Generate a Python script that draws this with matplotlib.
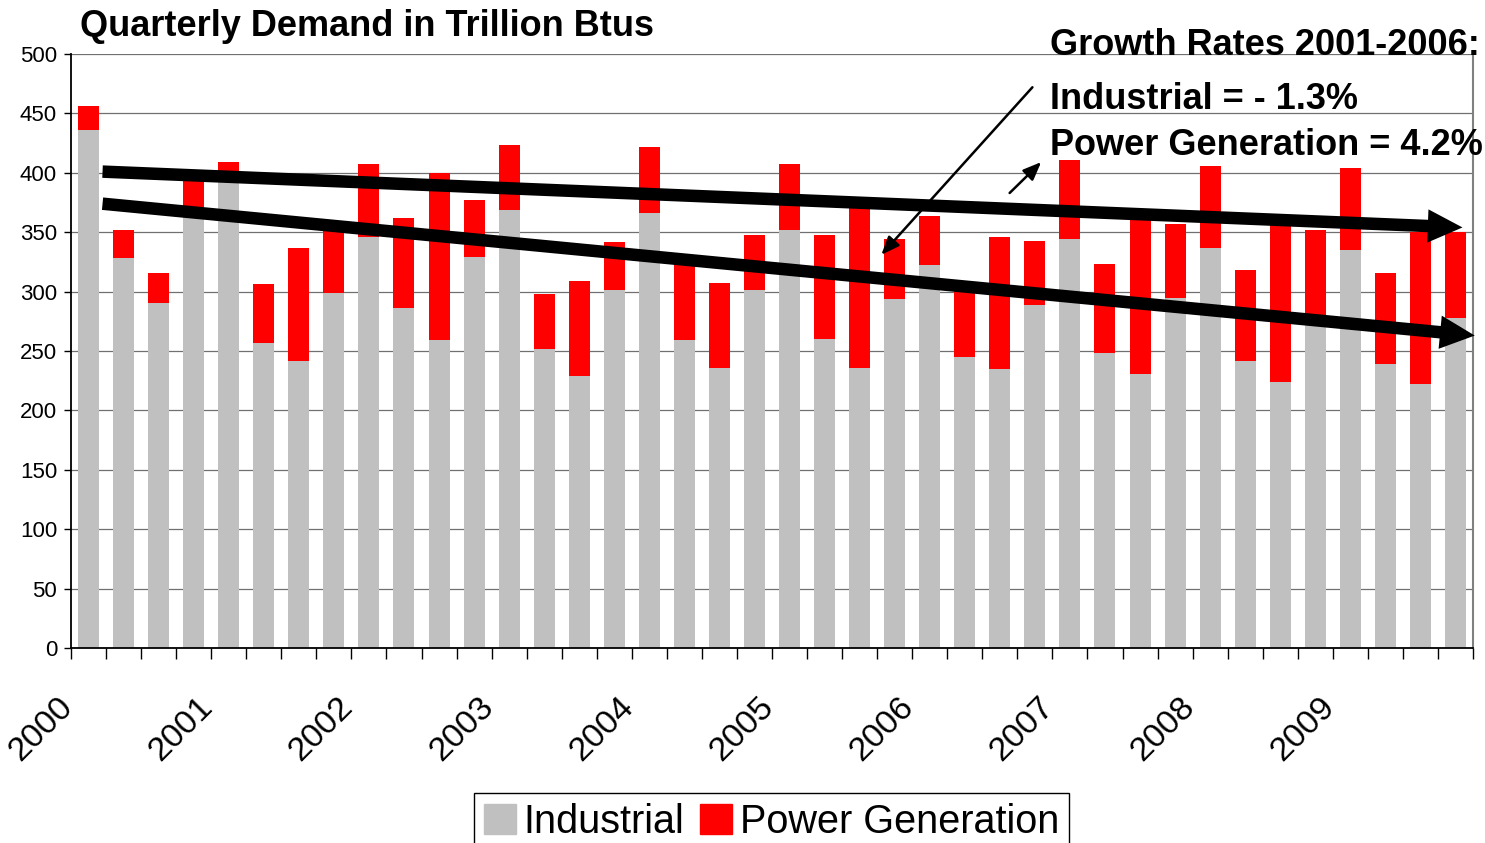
import numpy as np
import matplotlib.pyplot as plt
from matplotlib.patches import FancyArrowPatch, Patch
from matplotlib.transforms import ScaledTranslation

plt.rcParams['font.family'] = ['Liberation Sans', 'DejaVu Sans']

# quarterly demand, trillion Btu, 2000 Q1 .. 2009 Q4
industrial = [436, 328, 290, 371, 398, 257, 242, 299, 346, 286,
              259, 329, 369, 252, 229, 301, 366, 259, 236, 301,
              352, 260, 236, 294, 322, 245, 235, 289, 344, 248,
              231, 295, 337, 242, 224, 280, 335, 239, 222, 278]
power_gen = [20, 24, 26, 24, 11, 49, 95, 53, 61, 76,
             141, 48, 54, 46, 80, 41, 56, 68, 71, 47,
             55, 88, 138, 50, 42, 60, 111, 54, 67, 75,
             133, 62, 69, 76, 134, 72, 69, 77, 128, 72]
years = [str(y) for y in range(2000, 2010)]

# trend arrows (quarter index, value)
upper_trend = [(0.4, 401), (39.2, 354)]
lower_trend = [(0.4, 374), (39.55, 263)]
pointer_ind = [(26.93, 472), (22.62, 331)]
pointer_pow = [(26.28, 383), (27.18, 409)]

x = np.arange(len(industrial))

fig = plt.figure(figsize=(14.85, 8.43), dpi=100)
ax = fig.add_axes([71 / 1485, 1 - 648 / 843, 1402 / 1485, 594 / 843])

ax.bar(x, industrial, width=0.6, color='#c0c0c0', zorder=2)
ax.bar(x, power_gen, width=0.6, bottom=industrial, color='#ff0000', zorder=2)

ax.set_yticks(np.arange(0, 501, 50))
ax.yaxis.grid(True, color='#707070', lw=0.9, zorder=0)
ax.tick_params(axis='y', labelsize=16, length=5, width=1, pad=5)

ax.set_xticks(np.arange(0, len(x), 4) - 0.5)
ax.set_xticklabels(years, rotation=45, ha='right', va='top',
                   rotation_mode='anchor', fontsize=24.5)
ax.tick_params(axis='x', which='major', length=8, width=1, pad=23)
ax.set_xticks(np.arange(-0.5, len(x)), minor=True)
ax.tick_params(axis='x', which='minor', length=8, width=1)
# year labels sit a little left of their tick
shift = ScaledTranslation(-14 / 100, 0, fig.dpi_scale_trans)
for lab in ax.get_xticklabels():
    lab.set_transform(lab.get_transform() + shift)

ax.set_xlim(-0.5, len(x) - 0.5)
ax.set_ylim(0, 500)

ax.spines['top'].set_visible(False)
ax.spines['right'].set_color('#808080')
ax.spines['right'].set_linewidth(1.5)
ax.spines['left'].set_linewidth(1.3)
ax.spines['bottom'].set_linewidth(1.3)

# thick trend arrows
for a, b in [upper_trend, lower_trend]:
    ax.add_patch(FancyArrowPatch(a, b, mutation_scale=10, lw=0, color='black',
                                 arrowstyle='simple,head_length=2.5,head_width=2.4,tail_width=0.9',
                                 shrinkA=0, shrinkB=0, zorder=5, clip_on=False))
# thin pointers to the growth-rate text
for a, b in [pointer_ind, pointer_pow]:
    ax.add_patch(FancyArrowPatch(a, b, mutation_scale=10, lw=1.8, color='black',
                                 arrowstyle='-|>,head_length=1.1,head_width=0.45',
                                 shrinkA=0, shrinkB=0, zorder=5, clip_on=False))

fig.text(80 / 1485, 1 - 36 / 843, 'Quarterly Demand in Trillion Btus',
         fontsize=26, fontweight='bold', va='baseline')
fig.text(1050 / 1485, 1 - 55 / 843, 'Growth Rates 2001-2006:',
         fontsize=26, fontweight='bold', va='baseline')
fig.text(1050 / 1485, 1 - 109 / 843, 'Industrial = - 1.3%',
         fontsize=26, fontweight='bold', va='baseline')
fig.text(1050 / 1485, 1 - 155 / 843, 'Power Generation = 4.2%',
         fontsize=26, fontweight='bold', va='baseline')

handles = [Patch(color='#c0c0c0', label='Industrial'),
           Patch(color='#ff0000', label='Power Generation')]
leg = fig.legend(handles=handles, loc='upper left',
                 bbox_to_anchor=(474 / 1485, 1 - 793 / 843), ncol=2,
                 fontsize=28.5, frameon=True, fancybox=False, framealpha=1,
                 edgecolor='black', handlelength=0.8, handleheight=0.8,
                 handletextpad=0.2, columnspacing=0.4, borderpad=0.25,
                 borderaxespad=0)
leg.get_frame().set_linewidth(1)

fig.savefig('out.png', dpi=100)
